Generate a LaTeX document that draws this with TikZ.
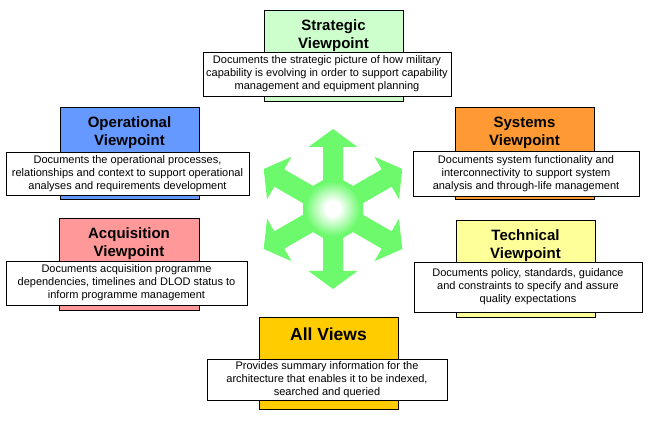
\documentclass[tikz,border=0pt]{standalone}
\usepackage{fontspec}
\setmainfont{Liberation Sans}
\usetikzlibrary{positioning, calc}
\definecolor{stratgreen}{HTML}{CCFFCC}
\definecolor{opblue}{HTML}{6699FF}
\definecolor{sysorange}{HTML}{FF9933}
\definecolor{acqpink}{HTML}{FF9999}
\definecolor{techyellow}{HTML}{FFFF99}
\definecolor{allgold}{HTML}{FFCC00}
\definecolor{starcol}{RGB}{108,250,108}
\tikzset{
    base/.style={draw, line width=0.8pt, align=center},
    viewbox/.style={base, rectangle, minimum width=139pt, minimum height=92pt, inner sep=0pt},
    title/.style={align=center, font=\fontsize{15}{18}\selectfont\bfseries, inner sep=2pt},
    desc/.style={base, rectangle, fill=white, font=\fontsize{11}{13}\selectfont, inner sep=2pt},
    starfill/.style={fill=starcol, draw=none}
}
\begin{document}
\begin{tikzpicture}[x=1pt, y=-1pt]
    \useasboundingbox (0,0) rectangle (667,430);

    % Central star
    \coordinate (hub) at (333,209);
    \fill[starfill, shift={(hub)}] (30:34.64) -- (90:34.64) -- (150:34.64) -- (210:34.64) -- (270:34.64) -- (330:34.64) -- cycle;
    \foreach \ang in {30,90,150,210,270,330}
        \fill[starfill, shift={(hub)}, rotate=\ang] (0,-10) -- (62,-10) -- (62,-24.5) -- (80,0) -- (62,24.5) -- (62,10) -- (0,10) -- cycle;
    % glow in the middle
    \foreach \r in {28,27,...,8} {
        \pgfmathtruncatemacro{\mix}{5*(\r-8)}
        \fill[starcol!\mix!white] (hub) circle (\r pt);
    }

    % Viewpoint boxes
    \node (strategic) [viewbox, fill=stratgreen, minimum height=91pt] at (333.5,55.5) {};
    \node (operational) [viewbox, fill=opblue] at (129.5,153) {};
    \node (systems) [viewbox, fill=sysorange] at (524.5,153) {};
    \node (acquisition) [viewbox, fill=acqpink, minimum width=140pt] at (129,264) {};
    \node (technical) [viewbox, fill=techyellow, minimum height=97pt] at (525.5,268.5) {};
    \node (allviews) [viewbox, fill=allgold] at (328.5,363) {};

    % Titles
    \node (strategic_t) [title, below=8pt of strategic.north] {Strategic\\Viewpoint};
    \node (operational_t) [title, below=8pt of operational.north] {Operational\\Viewpoint};
    \node (systems_t) [title, below=8pt of systems.north] {Systems\\Viewpoint};
    \node (acquisition_t) [title, below=8pt of acquisition.north] {Acquisition\\Viewpoint};
    \node (technical_t) [title, below=8pt of technical.north] {Technical\\Viewpoint};
    \node (allviews_t) [title, font=\fontsize{17.5}{20}\selectfont\bfseries, below=9pt of allviews.north] {All Views};

    % Descriptions
    \node (strategic_d) [desc, minimum width=248pt, minimum height=44pt, above=5pt of strategic.south, xshift=-6.5pt] {Documents the strategic picture of how military\\capability is evolving in order to support capability\\management and equipment planning};
    \node (operational_d) [desc, minimum width=243pt, minimum height=43pt, above=4pt of operational.south, xshift=-2pt] {Documents the operational processes,\\relationships and context to support operational\\analyses and requirements development};
    \node (systems_d) [desc, minimum width=226pt, minimum height=45pt, above=3pt of systems.south, xshift=1.5pt] {Documents system functionality and\\interconnectivity to support system\\analysis and through-life management};
    \node (acquisition_d) [desc, minimum width=241pt, minimum height=44pt, above=5pt of acquisition.south, xshift=-2.5pt] {Documents acquisition programme\\dependencies, timelines and DLOD status to\\inform programme management};
    \node (technical_d) [desc, minimum width=228pt, minimum height=50pt, above=5pt of technical.south, xshift=2.5pt] {Documents policy, standards, guidance\\and constraints to specify and assure\\quality expectations};
    \node (allviews_d) [desc, minimum width=240pt, minimum height=40pt, above=9pt of allviews.south, xshift=-1.5pt] {Provides summary information for the\\architecture that enables it to be indexed,\\searched and queried};
\end{tikzpicture}
\end{document}
